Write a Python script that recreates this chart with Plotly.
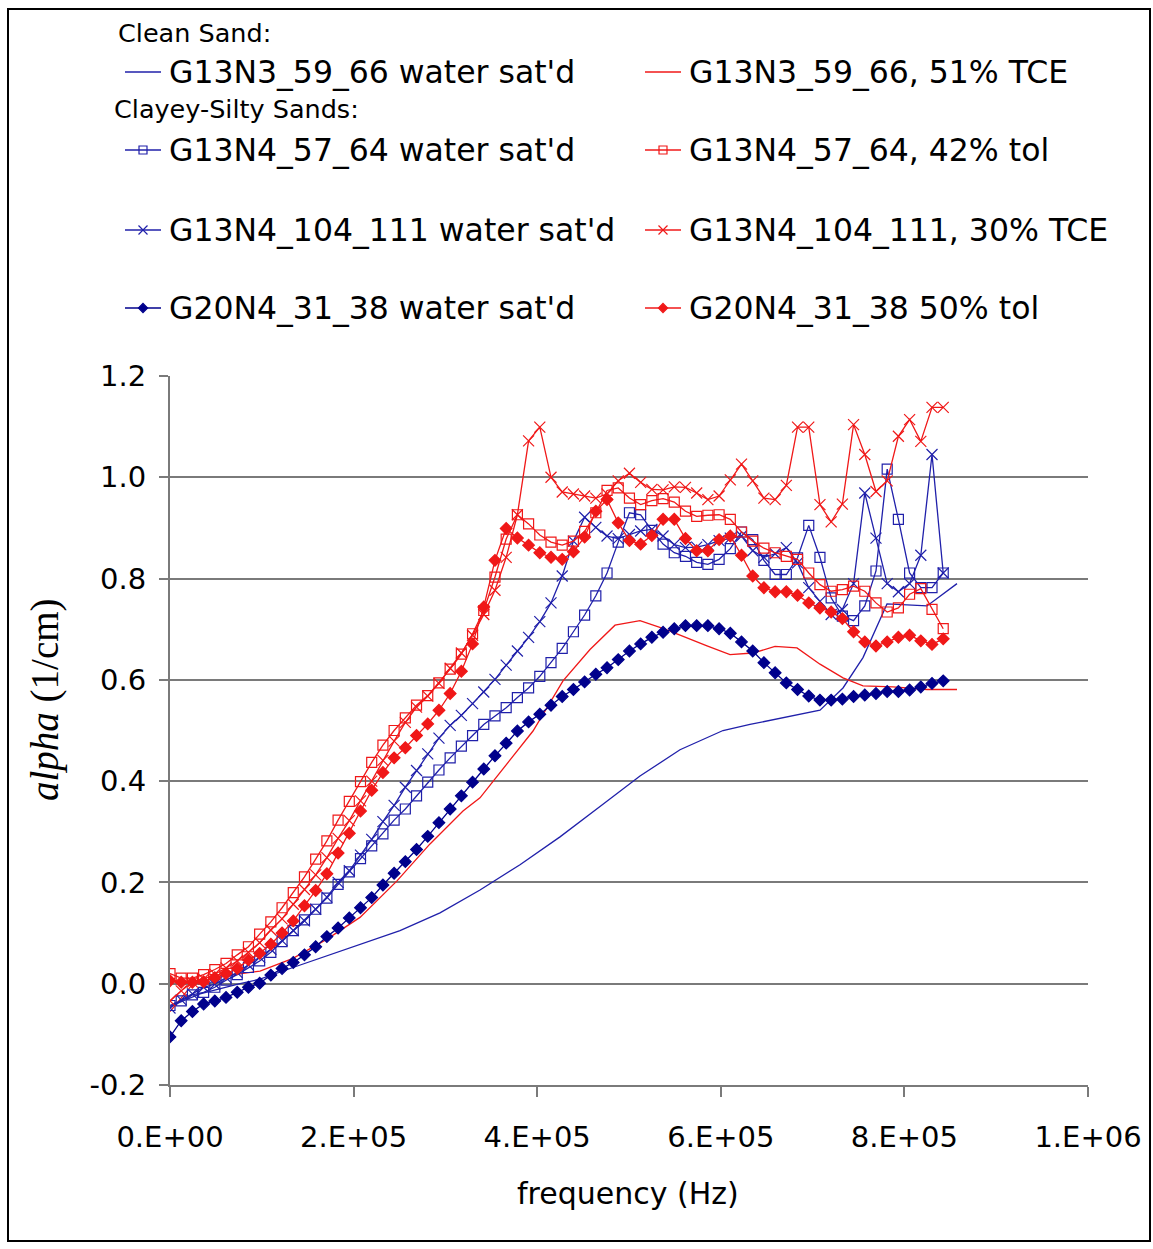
import plotly.graph_objects as go

W, H = 1153, 1249

# ---------------- data ----------------
freq_hz = [0, 12207, 24414, 36621, 48828, 61035, 73242, 85449, 97656, 109863,
           122070, 134277, 146484, 158691, 170898, 183105, 195313, 207520, 219727, 231934,
           244141, 256348, 268555, 280762, 292969, 305176, 317383, 329590, 341797, 354004,
           366211, 378418, 390625, 402832, 415039, 427246, 439453, 451660, 463867, 476074,
           488281, 500488, 512695, 524902, 537109, 549316, 561523, 573730, 585938, 598145,
           610352, 622559, 634766, 646973, 659180, 671387, 683594, 695801, 708008, 720215,
           732422, 744629, 756836, 769043, 781250, 793457, 805664, 817871, 830078, 842285]

g13n4_57_water = [-0.043, -0.034, -0.022, -0.017, -0.007, 0.007, 0.018, 0.032, 0.045, 0.062,
                  0.083, 0.105, 0.126, 0.147, 0.169, 0.196, 0.221, 0.247, 0.272, 0.296,
                  0.323, 0.345, 0.371, 0.398, 0.422, 0.446, 0.469, 0.490, 0.512, 0.529,
                  0.545, 0.565, 0.584, 0.607, 0.634, 0.662, 0.695, 0.728, 0.766, 0.811,
                  0.872, 0.930, 0.926, 0.895, 0.868, 0.851, 0.844, 0.832, 0.828, 0.838,
                  0.859, 0.892, 0.877, 0.836, 0.808, 0.808, 0.841, 0.905, 0.842, 0.762,
                  0.726, 0.717, 0.746, 0.815, 1.016, 0.917, 0.811, 0.782, 0.782, 0.811]

g13n4_57_tol = [0.020, 0.011, 0.011, 0.018, 0.028, 0.040, 0.057, 0.073, 0.098, 0.122,
                0.150, 0.180, 0.211, 0.246, 0.282, 0.323, 0.360, 0.399, 0.437, 0.471,
                0.500, 0.525, 0.550, 0.569, 0.594, 0.621, 0.651, 0.691, 0.737, 0.803,
                0.878, 0.926, 0.908, 0.886, 0.872, 0.866, 0.874, 0.893, 0.930, 0.974,
                0.979, 0.959, 0.946, 0.954, 0.958, 0.951, 0.933, 0.923, 0.925, 0.926,
                0.917, 0.892, 0.874, 0.860, 0.851, 0.844, 0.838, 0.811, 0.788, 0.775,
                0.778, 0.785, 0.775, 0.752, 0.734, 0.742, 0.769, 0.780, 0.739, 0.701]

g13n4_104_water = [-0.048, -0.032, -0.020, -0.007, -0.001, 0.012, 0.022, 0.037, 0.052, 0.068,
                   0.085, 0.105, 0.124, 0.147, 0.171, 0.200, 0.223, 0.254, 0.285, 0.320,
                   0.352, 0.388, 0.421, 0.454, 0.485, 0.510, 0.530, 0.553, 0.576, 0.601,
                   0.629, 0.657, 0.684, 0.715, 0.752, 0.805, 0.874, 0.921, 0.901, 0.884,
                   0.879, 0.887, 0.894, 0.897, 0.884, 0.867, 0.861, 0.862, 0.867, 0.875,
                   0.880, 0.884, 0.855, 0.842, 0.849, 0.861, 0.831, 0.782, 0.755, 0.729,
                   0.739, 0.790, 0.969, 0.880, 0.790, 0.774, 0.790, 0.846, 1.045, 0.811]

g13n4_104_tce = [-0.034, -0.014, 0.003, 0.009, 0.019, 0.031, 0.045, 0.062, 0.081, 0.106,
                 0.128, 0.157, 0.186, 0.215, 0.249, 0.287, 0.322, 0.361, 0.400, 0.441,
                 0.479, 0.516, 0.546, 0.568, 0.593, 0.623, 0.653, 0.688, 0.729, 0.777,
                 0.842, 0.926, 1.072, 1.099, 1.000, 0.971, 0.967, 0.963, 0.959, 0.967,
                 0.993, 1.008, 0.990, 0.976, 0.975, 0.981, 0.980, 0.969, 0.956, 0.963,
                 0.995, 1.026, 0.993, 0.959, 0.956, 0.984, 1.099, 1.099, 0.946, 0.912,
                 0.947, 1.104, 1.045, 0.972, 0.993, 1.081, 1.114, 1.071, 1.138, 1.138]

g20n4_water = [-0.105, -0.073, -0.055, -0.040, -0.034, -0.027, -0.017, -0.007, 0.001, 0.017,
               0.030, 0.042, 0.057, 0.073, 0.093, 0.110, 0.130, 0.150, 0.170, 0.195,
               0.218, 0.241, 0.265, 0.291, 0.318, 0.345, 0.371, 0.398, 0.424, 0.450,
               0.475, 0.499, 0.517, 0.532, 0.550, 0.567, 0.581, 0.596, 0.611, 0.624,
               0.640, 0.657, 0.671, 0.684, 0.694, 0.701, 0.707, 0.707, 0.707, 0.701,
               0.692, 0.675, 0.657, 0.634, 0.614, 0.594, 0.581, 0.568, 0.560, 0.560,
               0.562, 0.567, 0.570, 0.573, 0.577, 0.577, 0.580, 0.586, 0.593, 0.598]

g20n4_tol = [0.006, 0.003, 0.003, 0.004, 0.012, 0.020, 0.030, 0.047, 0.060, 0.078,
             0.100, 0.124, 0.154, 0.184, 0.217, 0.258, 0.297, 0.341, 0.382, 0.417,
             0.446, 0.466, 0.490, 0.513, 0.540, 0.573, 0.617, 0.671, 0.744, 0.836,
             0.899, 0.880, 0.866, 0.851, 0.842, 0.838, 0.853, 0.882, 0.933, 0.956,
             0.910, 0.875, 0.868, 0.885, 0.917, 0.917, 0.879, 0.855, 0.855, 0.877,
             0.884, 0.846, 0.805, 0.782, 0.774, 0.774, 0.767, 0.752, 0.742, 0.734,
             0.721, 0.695, 0.675, 0.667, 0.675, 0.684, 0.688, 0.677, 0.670, 0.681]

clean_water_f = [0, 32680, 76250, 98040, 133990, 171020, 206970, 250540, 294120, 337690,
                 381260, 424840, 468410, 511980, 555560, 602400, 631810, 667760, 708060, 733120,
                 754900, 781050, 824620, 857300]
clean_water = [-0.045, -0.020, 0.000, 0.009, 0.032, 0.055, 0.078, 0.105, 0.140, 0.185,
               0.235, 0.290, 0.350, 0.410, 0.462, 0.500, 0.512, 0.525, 0.540, 0.584,
               0.644, 0.750, 0.746, 0.790]

clean_tce_f = [0, 25054, 62092, 98039, 133987, 171024, 206972, 247277, 283224, 319172,
               337691, 359477, 395425, 428105, 457516, 484749, 511983, 539216, 566449, 584967,
               610022, 635076, 659041, 683007, 708061, 733115, 754902, 787582, 824619, 857298]
clean_tce = [-0.055, 0.000, 0.016, 0.025, 0.050, 0.088, 0.131, 0.203, 0.276, 0.341,
             0.367, 0.417, 0.499, 0.598, 0.660, 0.708, 0.717, 0.700, 0.680, 0.667,
             0.650, 0.653, 0.666, 0.663, 0.631, 0.604, 0.588, 0.586, 0.581, 0.581]

x_tickvals = [0, 200000, 400000, 600000, 800000, 1000000]
x_ticktext = ["0.E+00", "2.E+05", "4.E+05", "6.E+05", "8.E+05", "1.E+06"]
y_tickvals = [-0.2, 0.0, 0.2, 0.4, 0.6, 0.8, 1.0, 1.2]
y_ticktext = ["-0.2", "0.0", "0.2", "0.4", "0.6", "0.8", "1.0", "1.2"]

header_clean = "Clean Sand:"
header_clayey = "Clayey-Silty Sands:"
name_clean_water = "G13N3_59_66 water sat'd"
name_clean_tce = "G13N3_59_66, 51% TCE"
name_57_water = "G13N4_57_64 water sat'd"
name_57_tol = "G13N4_57_64, 42% tol"
name_104_water = "G13N4_104_111 water sat'd"
name_104_tce = "G13N4_104_111, 30% TCE"
name_g20_water = "G20N4_31_38 water sat'd"
name_g20_tol = "G20N4_31_38 50% tol"

# ---------------- styles ----------------
BLUE = "#2020aa"
NAVY = "#00008c"
RED = "#f01818"
LW = 1.3

styles = {
    "plain_blue": dict(color=BLUE, symbol=None),
    "plain_red": dict(color=RED, symbol=None),
    "sq_blue": dict(color=BLUE, symbol="square-open", size=10),
    "sq_red": dict(color=RED, symbol="square-open", size=10),
    "x_blue": dict(color=BLUE, symbol="x-thin-open", size=11),
    "x_red": dict(color=RED, symbol="x-thin-open", size=11),
    "d_blue": dict(color=NAVY, symbol="diamond", size=9),
    "d_red": dict(color=RED, symbol="diamond", size=9),
}

fig = go.Figure()


def add_series(x, y, key, name, xa="x", ya="y"):
    st = styles[key]
    if st.get("symbol") is None:
        fig.add_trace(go.Scatter(x=x, y=y, mode="lines", name=name, xaxis=xa, yaxis=ya,
                                 line=dict(color=st["color"], width=LW), showlegend=False,
                                 hoverinfo="skip"))
    else:
        fig.add_trace(go.Scatter(x=x, y=y, mode="lines+markers", name=name, xaxis=xa, yaxis=ya,
                                 line=dict(color=st["color"], width=LW),
                                 marker=dict(symbol=st["symbol"], size=st["size"], color=st["color"],
                                             line=dict(color=st["color"], width=1.2)),
                                 showlegend=False, hoverinfo="skip"))


add_series(clean_water_f, clean_water, "plain_blue", name_clean_water)
add_series(clean_tce_f, clean_tce, "plain_red", name_clean_tce)
add_series(freq_hz, g20n4_water, "d_blue", name_g20_water)
add_series(freq_hz, g13n4_57_water, "sq_blue", name_57_water)
add_series(freq_hz, g13n4_104_water, "x_blue", name_104_water)
add_series(freq_hz, g20n4_tol, "d_red", name_g20_tol)
add_series(freq_hz, g13n4_57_tol, "sq_red", name_57_tol)
add_series(freq_hz, g13n4_104_tce, "x_red", name_104_tce)

# ---------------- custom legend (pixel overlay axes) ----------------
legend_rows = [
    (72, "plain_blue", name_clean_water, "plain_red", name_clean_tce),
    (150, "sq_blue", name_57_water, "sq_red", name_57_tol),
    (230, "x_blue", name_104_water, "x_red", name_104_tce),
    (308, "d_blue", name_g20_water, "d_red", name_g20_tol),
]
LEG_FONT = dict(family="DejaVu Sans", size=31.5, color="black")
annotations = []
for ypix, kl, tl, kr, tr in legend_rows:
    for (key, txt, xs) in ((kl, tl, 125), (kr, tr, 645)):
        st = styles[key]
        fig.add_trace(go.Scatter(x=[xs, xs + 36], y=[ypix, ypix], mode="lines", xaxis="x2", yaxis="y2",
                                 line=dict(color=st["color"], width=LW), showlegend=False,
                                 hoverinfo="skip"))
        if st.get("symbol") is not None:
            fig.add_trace(go.Scatter(x=[xs + 18], y=[ypix], mode="markers", xaxis="x2", yaxis="y2",
                                     marker=dict(symbol=st["symbol"], size=st["size"] - 2, color=st["color"],
                                                 line=dict(color=st["color"], width=1.2)),
                                     showlegend=False, hoverinfo="skip"))
        annotations.append(dict(x=xs + 42, y=ypix, xref="x2", yref="y2", text=txt, showarrow=False,
                                xanchor="left", yanchor="middle", font=LEG_FONT))

annotations.append(dict(x=116, y=33, xref="x2", yref="y2", text=header_clean, showarrow=False,
                        xanchor="left", yanchor="middle",
                        font=dict(family="DejaVu Sans", size=25.5, color="black")))
annotations.append(dict(x=112, y=109, xref="x2", yref="y2", text=header_clayey, showarrow=False,
                        xanchor="left", yanchor="middle",
                        font=dict(family="DejaVu Sans", size=25.5, color="black")))
annotations.append(dict(x=628, y=1193, xref="x2", yref="y2", text="frequency (Hz)", showarrow=False,
                        xanchor="center", yanchor="middle",
                        font=dict(family="DejaVu Sans", size=30, color="black")))
annotations.append(dict(x=45, y=700, xref="x2", yref="y2", text="<i>alpha</i> (1/cm)", showarrow=False,
                        textangle=-90, xanchor="center", yanchor="middle",
                        font=dict(family="Liberation Serif", size=39, color="black")))

AX = "#7a7a7a"
fig.update_layout(
    width=W, height=H, autosize=False,
    margin=dict(l=0, r=0, t=0, b=0, pad=0, autoexpand=False),
    paper_bgcolor="white", plot_bgcolor="rgba(0,0,0,0)",
    showlegend=False,
    xaxis=dict(domain=[170 / W, 1088 / W], range=[0, 1000000], anchor="y", automargin=False,
               showgrid=False, zeroline=False, showline=True, linecolor=AX, linewidth=2,
               ticks="outside", ticklen=10, tickwidth=2, tickcolor=AX,
               tickvals=x_tickvals, ticktext=x_ticktext, ticklabelstandoff=15,
               tickfont=dict(family="DejaVu Sans", size=29, color="black")),
    yaxis=dict(domain=[1 - 1085 / H, 1 - 376 / H], range=[-0.2, 1.2], anchor="x", automargin=False,
               showgrid=True, gridcolor=AX, gridwidth=2, zeroline=False,
               showline=True, linecolor=AX, linewidth=2,
               ticks="outside", ticklen=9, tickwidth=2, tickcolor=AX,
               tickvals=y_tickvals, ticktext=y_ticktext, ticklabelstandoff=7,
               tickfont=dict(family="DejaVu Sans", size=29, color="black")),
    xaxis2=dict(domain=[0, 1], range=[0, W], anchor="y2", visible=False, fixedrange=True,
                automargin=False),
    yaxis2=dict(domain=[0, 1], range=[H, 0], anchor="x2", visible=False, fixedrange=True,
                automargin=False),
    annotations=annotations,
    shapes=[dict(type="rect", xref="x2", yref="y2", x0=8, y0=9, x1=1150, y1=1241,
                 line=dict(color="black", width=2), fillcolor="rgba(0,0,0,0)")],
)

fig.write_html("out.html", config={"responsive": False, "displayModeBar": False},
               post_script="document.body.style.margin='0px';document.body.style.overflow='hidden';")
